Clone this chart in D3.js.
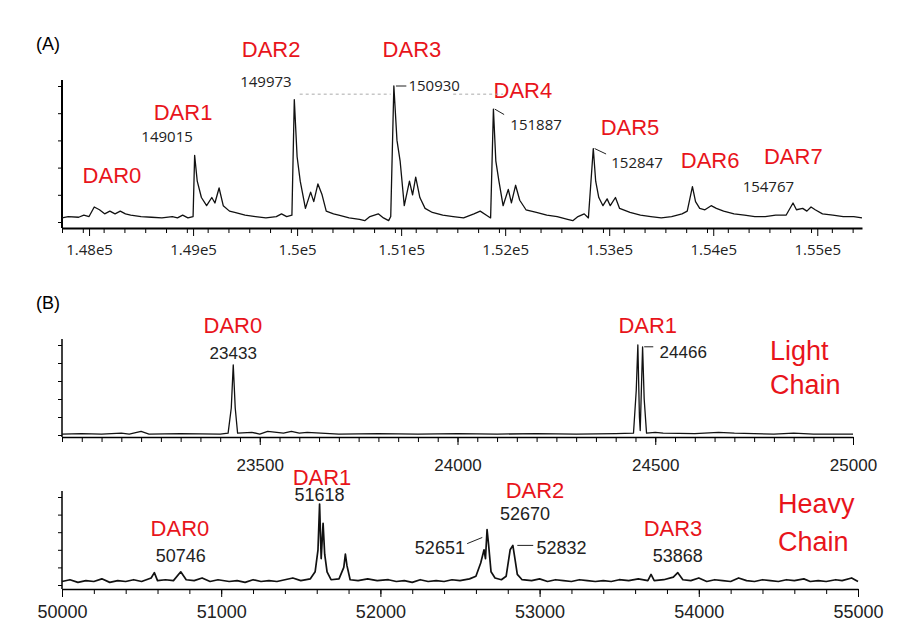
<!DOCTYPE html>
<html>
<head>
<meta charset="utf-8">
<script src="https://cdn.jsdelivr.net/npm/d3@7"></script>
<style>
  body { margin: 0; background: #fff; font-family: "Liberation Sans", Arial, sans-serif; }
</style>
</head>
<body>
<svg id="chart" width="910" height="636"></svg>
<script>
// ---- data ----
// intact ADC spectrum (mass, relative intensity)
const intactMass = [147740,147800,147900,147950,148000,148050,148100,148150,148200,148250,148300,148350,148400,148500,148600,148700,148800,148850,148900,148950,149000,149015,149040,149080,149130,149180,149210,149250,149290,149350,149400,149500,149600,149700,149800,149850,149900,149950,149973,150000,150030,150080,150130,150160,150200,150240,150280,150350,150400,150500,150600,150650,150700,150780,150830,150880,150900,150930,150960,150990,151030,151080,151110,151140,151180,151230,151300,151400,151500,151600,151700,151760,151820,151860,151887,151910,151940,151980,152030,152060,152100,152140,152200,152300,152400,152500,152600,152650,152700,152760,152800,152847,152870,152900,152940,152980,153010,153060,153100,153200,153300,153400,153500,153600,153700,153750,153800,153830,153870,153920,153980,154030,154100,154200,154300,154400,154500,154600,154700,154767,154800,154860,154900,154940,154980,155050,155150,155250,155350,155430];
const intactInt = [3,4,3.5,5,4,11,9,6,8,6,8,6,5,4,3.5,3,4,3,5,3,4,49,30,18,12,18,14,25,12,8,7,5,4,3,4,6,4,5,90,48,30,10,22,15,28,20,8,6,5,3,2,1,4,6,3,1,4,100,60,45,12,30,20,33,18,10,7,5,4,3,6,8,5,3,83,45,30,12,24,14,27,16,9,7,5,4,2,1,4,6,3,54,30,18,12,17,12,18,10,7,5,4,3,4,6,8,26,15,10,9,12,10,8,6,5,4,4,5,5,14,9,10,8,11,9,6,5,4,4,3];

// light chain
const lightMass = [23000,23050,23100,23150,23170,23200,23220,23300,23400,23420,23428,23433,23438,23444,23480,23500,23520,23560,23580,23600,23620,23700,23800,23900,24000,24100,24200,24300,24400,24445,24452,24456,24460,24462,24468,24472,24478,24500,24520,24600,24660,24700,24800,24850,24900,25000];
const lightInt = [1,1.5,1,2,1,4,1,1.5,1,2,30,78,30,2,3,1,4,2,4,2,3,1,1.5,1,1.5,1,1.5,1,1.5,2,50,100,20,5,98,40,2,3,2,1.5,3,2,1,2,1,1];

// heavy chain
const heavyMass = [50000,50050,50100,50150,50200,50250,50300,50350,50400,50450,50500,50560,50580,50600,50650,50700,50746,50780,50830,50880,50930,50980,51050,51100,51150,51200,51250,51300,51350,51400,51450,51500,51560,51590,51608,51618,51628,51640,51650,51665,51690,51740,51770,51780,51790,51810,51860,51920,51980,52050,52100,52150,52200,52250,52300,52350,52400,52450,52500,52560,52600,52630,52651,52660,52670,52680,52695,52720,52760,52790,52815,52832,52845,52860,52890,52950,53000,53050,53100,53150,53200,53250,53300,53350,53400,53450,53500,53560,53620,53680,53700,53720,53780,53840,53868,53900,53950,54000,54050,54100,54150,54200,54250,54300,54350,54400,54450,54500,54550,54600,54660,54700,54750,54800,54860,54900,54960,55000];
const heavyInt = [4,6,3,5,4,7,3,5,4,6,4,8,14,5,6,5,15,6,5,8,4,6,4,5,3,6,4,5,4,6,8,5,7,15,40,92,30,70,35,15,6,7,20,35,22,6,5,7,5,6,4,5,3,6,4,5,4,6,5,7,10,25,40,30,63,45,15,8,6,10,40,45,30,12,6,5,7,4,6,5,4,6,5,4,5,4,6,5,7,5,12,5,6,9,14,6,5,8,4,6,5,4,8,5,4,6,5,4,6,5,7,4,5,4,6,5,8,4];

const intactTicks = [148000,149000,150000,151000,152000,153000,154000,155000];
const intactTickLabels = ["1.48e5","1.49e5","1.5e5","1.51e5","1.52e5","1.53e5","1.54e5","1.55e5"];
const lightTicks = [23500,24000,24500,25000];
const heavyTicks = [50000,51000,52000,53000,54000,55000];

// annotations: [text, mass, intensity, anchor]
const intactDar = [["DAR0",148220,29],["DAR1",148904,75],["DAR2",149750,121],["DAR3",151104,121],["DAR4",152170,91],["DAR5",153200,64],["DAR6",153970,40],["DAR7",154770,43]];
const intactNums = [["149015",148750,59,"middle"],["149973",149700,99,"middle"],["150930",151070,96,"start"],["151887",152050,68,"start"],["152847",153020,40,"start"],["154767",154530,22,"middle"]];
const lightDar = [["DAR0",23432,113],["DAR1",24481,113]];
const lightNums = [["23433",23433,84,"middle"],["24466",24511,86,"start"]];
const heavyDar = [["DAR0",50741,56],["DAR1",51633,114],["DAR2",52971,99],["DAR3",53838,56]];
const heavyNums = [["50746",50746,26,"middle"],["51618",51618,95,"middle"],["52670",52908,74,"middle"],["52651",52531,35,"end"],["52832",52980,35,"start"],["53868",53868,26,"middle"]];

// ---- drawing ----
const svg = d3.select("#chart");
const RED = "#e8141b";

function panel(o) {
  const x = d3.scaleLinear().domain(o.xDomain).range([62, o.right]);
  const y = d3.scaleLinear().domain([0, 100]).range([o.base, o.top]);
  const g = svg.append("g");

  // y axis: plain line with small ticks
  g.append("g").attr("transform", `translate(62,0)`)
    .call(d3.axisLeft(y).ticks(o.yTicks).tickFormat("").tickSize(4).tickSizeOuter(0))
    .call(s => s.select(".domain").attr("stroke-width", o.lw).attr("d", `M0,${o.axisY}V${o.top - 6}`));

  // x axis minor + major
  g.append("g").attr("transform", `translate(0,${o.axisY})`)
    .call(d3.axisBottom(x).tickValues(d3.range(o.xDomain[0], o.xDomain[1] + 1, o.minor).filter(v => v >= o.xDomain[0]))
      .tickFormat("").tickSize(5).tickSizeOuter(0))
    .call(s => s.select(".domain").attr("stroke-width", o.lw));
  const ax = g.append("g").attr("transform", `translate(0,${o.axisY})`)
    .call(d3.axisBottom(x).tickValues(o.ticks).tickSize(8).tickSizeOuter(0).tickPadding(o.pad)
      .tickFormat((d, i) => o.labels ? o.labels[i] : d));
  ax.select(".domain").remove();
  ax.selectAll("text").attr("font-size", o.tickFont).attr("fill", "#222")
    .attr("font-family", o.tickFamily);

  // trace
  const pts = o.mass.map((m, i) => [m, o.int[i]]);
  g.append("path").datum(pts)
    .attr("d", d3.line().x(d => x(d[0])).y(d => y(d[1])))
    .attr("fill", "none").attr("stroke", "#111").attr("stroke-width", o.traceW)
    .attr("stroke-linejoin", "round");

  g.selectAll(".dar").data(o.dar).join("text")
    .attr("x", d => x(d[1])).attr("y", d => y(d[2]))
    .attr("text-anchor", "middle").attr("font-size", 22).attr("fill", RED)
    .text(d => d[0]);
  g.selectAll(".num").data(o.nums).join("text")
    .attr("x", d => x(d[1])).attr("y", d => y(d[2]))
    .attr("text-anchor", d => d[3]).attr("font-size", o.numFont).attr("fill", "#222")
    .attr("font-family", o.tickFamily)
    .text(d => d[0]);
  return { g, x, y };
}

svg.append("text").attr("x", 36).attr("y", 50).attr("font-size", 18).text("(A)");
svg.append("text").attr("x", 36).attr("y", 309).attr("font-size", 18).text("(B)");

const A = panel({ xDomain: [147740, 155430], right: 862, base: 222, top: 86, axisY: 228,
  yTicks: 7, mass: intactMass, int: intactInt, ticks: intactTicks, labels: intactTickLabels,
  minor: 200, pad: 8, tickFont: 15, tickFamily: "'Open Sans', sans-serif", lw: 2, traceW: 1.3,
  dar: intactDar, nums: intactNums, numFont: 15 });
// leader lines and dotted guides
const lead = (p, pts, dash) => p.g.append("path")
  .attr("d", d3.line().x(d => p.x(d[0])).y(d => p.y(d[1]))(pts))
  .attr("fill", "none").attr("stroke", dash ? "#aaa" : "#222").attr("stroke-width", 1)
  .attr("stroke-dasharray", dash ? "3,3" : null);
lead(A, [[150025, 94], [150900, 94]], true);
lead(A, [[151500, 94], [151980, 94]], true);
lead(A, [[150950, 100], [151050, 100]]);
lead(A, [[151900, 83], [151990, 79]]);
lead(A, [[152860, 54], [152970, 50]]);

const L = panel({ xDomain: [23000, 25000], right: 853, base: 435, top: 345, axisY: 437,
  yTicks: 4, mass: lightMass, int: lightInt, ticks: lightTicks, minor: 50, pad: 14,
  tickFont: 17, tickFamily: "'Liberation Sans', Arial, sans-serif", lw: 1.5, traceW: 1.3,
  dar: lightDar, nums: lightNums, numFont: 17 });
lead(L, [[24472, 98], [24495, 98]]);
L.g.append("text").attr("x", L.x(24790)).attr("y", L.y(83)).attr("font-size", 27).attr("fill", RED).text("Light");
L.g.append("text").attr("x", L.x(24790)).attr("y", L.y(46)).attr("font-size", 27).attr("fill", RED).text("Chain");

const H = panel({ xDomain: [50000, 55000], right: 858, base: 585, top: 497, axisY: 589,
  yTicks: 5, mass: heavyMass, int: heavyInt, ticks: heavyTicks, minor: 200, pad: 8,
  tickFont: 18, tickFamily: "'Liberation Sans', Arial, sans-serif", lw: 1.5, traceW: 1.7,
  dar: heavyDar, nums: heavyNums, numFont: 18 });
lead(H, [[52545, 47], [52640, 54]]);
lead(H, [[52860, 45], [52960, 45]]);
H.g.append("text").attr("x", H.x(54497)).attr("y", H.y(82)).attr("font-size", 27).attr("fill", RED).text("Heavy");
H.g.append("text").attr("x", H.x(54497)).attr("y", H.y(39)).attr("font-size", 27).attr("fill", RED).text("Chain");
</script>
</body>
</html>
